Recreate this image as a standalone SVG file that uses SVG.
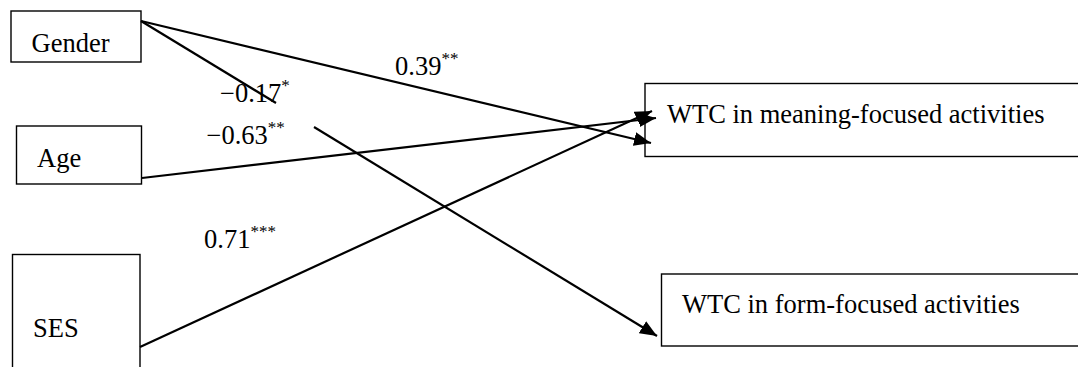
<svg xmlns="http://www.w3.org/2000/svg" width="1078" height="367" viewBox="0 0 1078 367">
  <style>
    .box { fill: #fff; stroke: #000; stroke-width: 1.4; }
    .lbl { font-family: "Liberation Serif", "Times New Roman", serif; font-size: 26.5px; fill: #000; }
    .sup { font-size: 17px; }
    .edge { stroke: #000; stroke-width: 2.2; fill: none; }
  </style>
  <defs>
    <marker id="arrow" markerUnits="userSpaceOnUse" markerWidth="19" markerHeight="15" refX="17" refY="7" orient="auto">
      <path d="M0,0 L17,7 L0,14 z" fill="#000"/>
    </marker>
  </defs>
  <rect width="1078" height="367" fill="#fff"/>

  <g id="gender">
    <rect class="box" x="11" y="11" width="130" height="51"/>
    <text class="lbl" x="31.5" y="52">Gender</text>
  </g>
  <g id="age">
    <rect class="box" x="16.5" y="126" width="125" height="58"/>
    <text class="lbl" x="37" y="167">Age</text>
  </g>
  <g id="ses">
    <rect class="box" x="12.5" y="254.5" width="127.5" height="130"/>
    <text class="lbl" x="33" y="337">SES</text>
  </g>
  <g id="wtc-meaning">
    <rect class="box" x="645" y="83.5" width="450" height="73"/>
    <text class="lbl" x="667" y="123">WTC in meaning-focused activities</text>
  </g>
  <g id="wtc-form">
    <rect class="box" x="661.5" y="274" width="450" height="72"/>
    <text class="lbl" x="682" y="313">WTC in form-focused activities</text>
  </g>

  <g id="connectors">
    <line class="edge" x1="141" y1="21" x2="651" y2="143" marker-end="url(#arrow)"/>
    <line class="edge" x1="141" y1="21" x2="276" y2="103"/>
    <line class="edge" x1="314" y1="127" x2="657" y2="336" marker-end="url(#arrow)"/>
    <line class="edge" x1="142" y1="178" x2="656" y2="118" marker-end="url(#arrow)"/>
    <line class="edge" x1="140" y1="347" x2="652" y2="111" marker-end="url(#arrow)"/>
  </g>

  <g id="labels">
    <text class="lbl" x="395" y="75">0.39<tspan class="sup" dy="-11">**</tspan></text>
    <text class="lbl" x="220" y="101.5">−0.17<tspan class="sup" dy="-11">*</tspan></text>
    <text class="lbl" x="206.5" y="144">−0.63<tspan class="sup" dy="-11">**</tspan></text>
    <text class="lbl" x="204" y="248">0.71<tspan class="sup" dy="-11">***</tspan></text>
  </g>
</svg>
